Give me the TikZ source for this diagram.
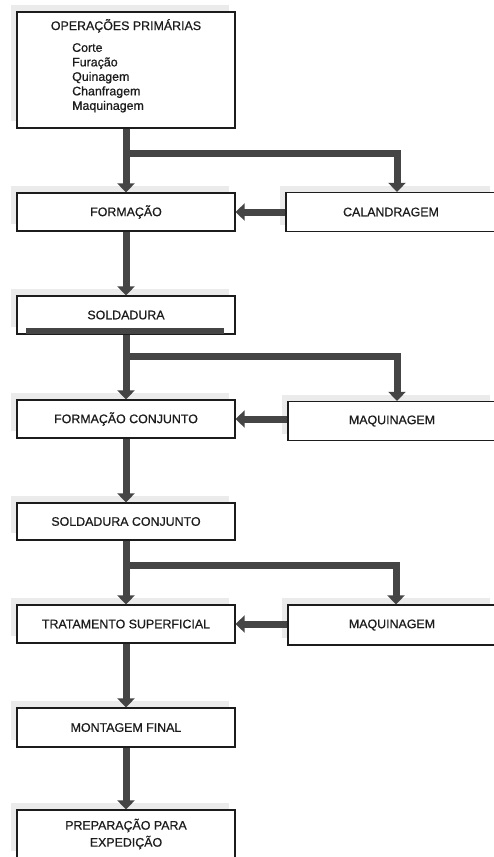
\documentclass[tikz,border=0pt]{standalone}
\usepackage{fontspec}
\setmainfont[FakeBold=0.6,AutoFakeBold=0.6]{Liberation Sans}
\usetikzlibrary{arrows.meta,shadows,calc}
\definecolor{flow}{HTML}{454545}
\definecolor{ink}{HTML}{1C1C1C}
\definecolor{shade}{HTML}{EBEBEB}
\begin{document}
\begin{tikzpicture}[x=1pt,y=-1pt,
  stage/.style={draw=ink, line width=1.2pt, fill=white, rectangle, inner sep=0pt,
    minimum width=218pt, minimum height=38pt, text=ink,
    font=\fontsize{12.4}{17}\selectfont\bfseries, align=center,
    general shadow={fill=shade, shadow xshift=-6pt, shadow yshift=7pt}},
  side/.style={stage, minimum width=210pt},
  label/.style={inner sep=0pt, text=ink, font=\fontsize{12.4}{14.5}\selectfont\bfseries},
  flowline/.style={draw=flow, line width=7pt, line join=miter,
    -{Triangle[width=17pt,length=9pt]}},
]
\useasboundingbox (0,0) rectangle (493,857);

% process boxes
\node[stage, minimum height=116pt] (op) at (126,70) {};
\node[label, anchor=base] (optitle) at (126,30) {OPERAÇÕES PRIMÁRIAS};
\node[label, anchor=north west, align=left] (oplist) at (72,43)
  {Corte\\Furação\\Quinagem\\Chanfragem\\Maquinagem};

\node[stage] (f1) at (126,212) {FORMAÇÃO};
\node[side, minimum height=39pt] (cal) at (391,212) {CALANDRAGEM};

\node[stage] (sold) at (126,315) {SOLDADURA};
\fill[flow] ($(sold.south west)+(10,-1)$) rectangle ($(sold.south east)+(-12,-7)$);

\node[stage] (fc) at (126,419) {FORMAÇÃO CONJUNTO};
\node[side, minimum width=208pt, minimum height=39pt] (maq1) at (392,421) {MAQUINAGEM};

\node[stage, minimum height=37pt] (sc) at (126,521.5) {SOLDADURA CONJUNTO};

\node[stage] (trat) at (126,624) {TRATAMENTO SUPERFICIAL};
\node[side, minimum width=208pt, minimum height=40pt] (maq2) at (392,625) {MAQUINAGEM};

\node[stage, minimum height=39pt] (mont) at (126,727.5) {MONTAGEM FINAL};
\node[stage, minimum height=48pt] (prep) at (126,834) {PREPARAÇÃO PARA\\EXPEDIÇÃO};

% branch points
\coordinate (b1) at (126,153);  \coordinate (j1) at (397,153);
\coordinate (b2) at (126,356);  \coordinate (j2) at (397,356);
\coordinate (b3) at (126,565);  \coordinate (j3) at (396,565);

% main flow
\draw[flowline] (op.south) -- (f1.north);
\draw[flowline] (f1.south) -- (sold.north);
\draw[flowline] (sold.south) -- (fc.north);
\draw[flowline] (fc.south) -- (sc.north);
\draw[flowline] (sc.south) -- (trat.north);
\draw[flowline] (trat.south) -- (mont.north);
\draw[flowline] (mont.south) -- (prep.north);

% side branches
\draw[flowline] (b1) -- (j1) -- (j1 |- cal.north);
\draw[flowline] (b2) -- (j2) -- (j2 |- maq1.north);
\draw[flowline] (b3) -- (j3) -- (j3 |- maq2.north);

% returns from the side operations
\draw[flowline] (cal.west |- f1.east) -- (f1.east);
\draw[flowline] (maq1.west |- fc.east) -- (fc.east);
\draw[flowline] (maq2.west |- trat.east) -- (trat.east);
\end{tikzpicture}
\end{document}
